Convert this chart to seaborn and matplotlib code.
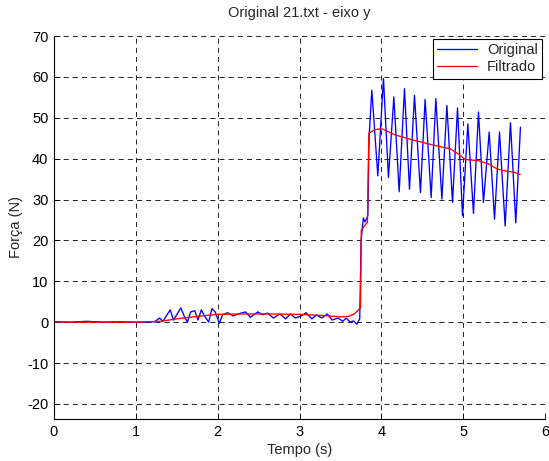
import matplotlib
matplotlib.use("Agg")
import matplotlib.pyplot as plt
import seaborn as sns
import pandas as pd

# Raw force signal (time in s, force in N)
t_orig = [0.00, 0.20, 0.40, 0.60, 0.80, 1.00, 1.14, 1.23, 1.29, 1.33, 1.42, 1.46, 1.55, 1.59,
          1.63, 1.67, 1.72, 1.76, 1.80, 1.84, 1.89, 1.93, 1.97, 2.02, 2.06, 2.12, 2.19,
          2.25, 2.34, 2.40, 2.49, 2.55, 2.61, 2.68, 2.76, 2.83, 2.89, 2.95, 3.02, 3.08,
          3.15, 3.21, 3.27, 3.34, 3.40, 3.47, 3.53, 3.57, 3.62, 3.66, 3.70, 3.736,
          3.753, 3.78, 3.80, 3.835, 3.85, 3.87, 3.884, 3.957, 4.026, 4.087, 4.153,
          4.218, 4.283, 4.344, 4.405, 4.478, 4.535, 4.609, 4.666, 4.740, 4.801, 4.870,
          4.931, 4.992, 5.057, 5.126, 5.187, 5.248, 5.318, 5.383, 5.444, 5.513, 5.578,
          5.643, 5.700]
f_orig = [0.1, 0.0, 0.2, 0.0, 0.1, 0.0, 0.0, 0.1, 1.0, 0.2, 3.0, 0.5, 3.5, 1.5,
          0.0, 2.5, 2.8, 0.5, 3.0, 1.5, 0.0, 3.3, 2.5, -0.3, 1.8, 2.3, 1.5,
          2.0, 2.5, 1.2, 2.5, 1.8, 2.2, 1.0, 2.0, 0.8, 2.0, 1.0, 1.5, 2.3,
          0.8, 1.8, 1.0, 2.0, 0.5, 1.0, 0.2, 1.0, 0.0, 0.3, -0.5, 0.8,
          20.0, 25.5, 24.5, 26.0, 45.0, 52.0, 56.7, 35.8, 59.6, 35.4, 55.1,
          31.9, 57.1, 32.5, 55.5, 31.7, 54.5, 30.5, 54.7, 30.1, 53.0, 29.3,
          52.4, 26.0, 48.5, 26.6, 51.4, 29.3, 46.5, 25.2, 46.5, 23.5, 48.8,
          24.3, 47.7]

# Filtered force signal
t_filt = [0.00, 1.00, 1.30, 1.50, 1.70, 2.00, 2.30, 2.60, 3.00, 3.30, 3.50, 3.60, 3.67,
          3.72, 3.745, 3.755, 3.83, 3.847, 3.85, 3.925, 4.006, 4.169, 4.413, 4.658,
          4.842, 4.943, 5.024, 5.187, 5.310, 5.412, 5.513, 5.636, 5.697]
f_filt = [0.0, 0.0, 0.2, 0.8, 1.3, 1.9, 2.0, 2.0, 1.9, 1.6, 1.3, 1.4, 2.0,
          3.0, 3.5, 22.5, 24.5, 46.0, 46.3, 47.1, 47.3, 45.8, 44.4, 43.2,
          42.4, 41.1, 39.8, 39.5, 38.7, 37.5, 37.0, 36.6, 36.1]

x_ticks = [0, 1, 2, 3, 4, 5, 6]
y_ticks = [-20, -10, 0, 10, 20, 30, 40, 50, 60, 70]

FS = 10.5

sns.set_style("ticks")
plt.rcParams["font.family"] = ["Liberation Sans", "DejaVu Sans"]
plt.rcParams["font.size"] = FS
plt.rcParams["axes.unicode_minus"] = False

df_orig = pd.DataFrame({"Tempo": t_orig, "Forca": f_orig})
df_filt = pd.DataFrame({"Tempo": t_filt, "Forca": f_filt})

fig = plt.figure(figsize=(5.49, 4.61), dpi=100)
ax = fig.add_axes([54 / 549, 1 - 419 / 461, (545 - 54) / 549, (419 - 36) / 461])

sns.lineplot(data=df_orig, x="Tempo", y="Forca", color=(0, 0, 1), lw=0.95,
             estimator=None, sort=False, label="Original", ax=ax)
sns.lineplot(data=df_filt, x="Tempo", y="Forca", color=(1, 0, 0), lw=0.95,
             estimator=None, sort=False, label="Filtrado", ax=ax)

ax.set_xlim(0, 6)
ax.set_ylim(-23.7, 70)
ax.set_xticks(x_ticks)
ax.set_yticks(y_ticks)
ax.tick_params(direction="in", length=4, width=0.6, labelsize=FS, colors="black", pad=4)

ax.grid(True, color="black", linestyle=(0, (6, 5)), linewidth=0.6)
for side in ("top", "right"):
    ax.spines[side].set_visible(False)
for side in ("left", "bottom"):
    ax.spines[side].set_linewidth(0.8)
    ax.spines[side].set_color("black")

ax.set_title("Original 21.txt - eixo y", fontsize=FS, pad=13.5)
ax.set_xlabel("Tempo (s)", fontsize=FS)
ax.set_ylabel("Força (N)", fontsize=FS)
ax.xaxis.set_label_coords(0.5, -0.062)
ax.yaxis.set_label_coords(-0.063, 0.5)

leg = ax.legend(loc="upper right", frameon=True, fancybox=False, framealpha=1,
                edgecolor="black", fontsize=FS, borderaxespad=0.2,
                handlelength=2.7, handletextpad=0.7, borderpad=0.3, labelspacing=0.2)
leg.get_frame().set_linewidth(0.8)

fig.savefig("out.png", dpi=100)
